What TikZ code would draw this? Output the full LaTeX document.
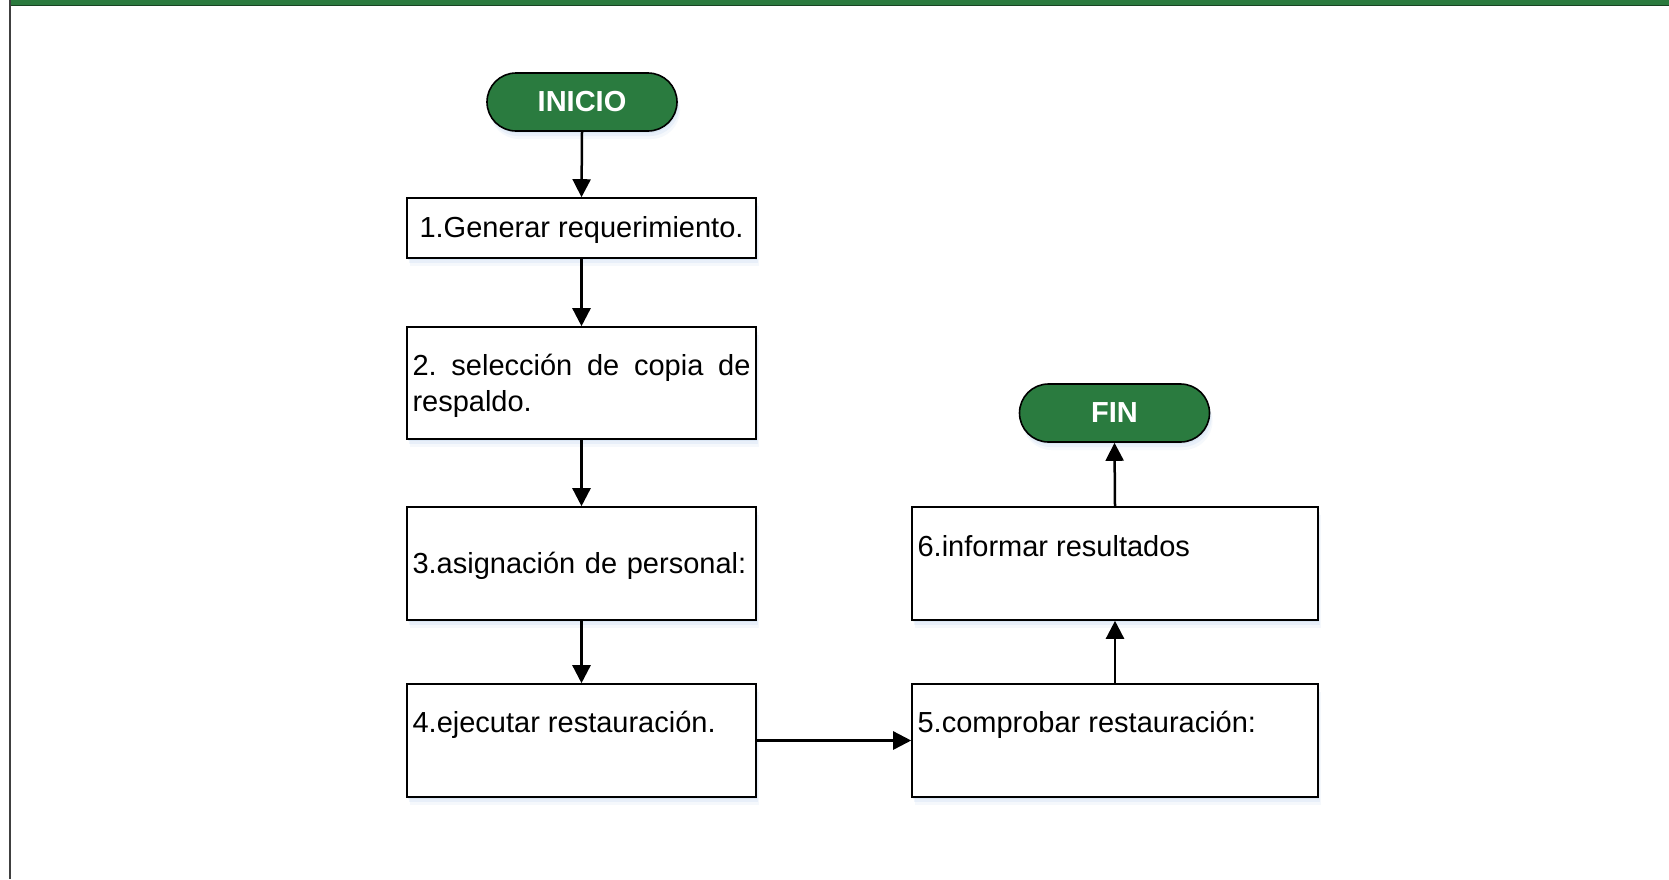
\documentclass[tikz,border=0pt]{standalone}
\usepackage{fontspec}
\setmainfont{Liberation Sans}
\usetikzlibrary{arrows.meta,shapes.misc,shadows}
\definecolor{flowgreen}{HTML}{2A7B3F}
\definecolor{bargreen}{HTML}{2B7A3E}
\definecolor{edgegray}{HTML}{404040}
\definecolor{shadowblue}{HTML}{BDD3EE}
\frenchspacing
\begin{document}
\begin{tikzpicture}[x=0.5pt,y=-0.5pt,
  softshadow/.style={
    general shadow={fill=shadowblue,opacity=0.30,shadow xshift=0.5pt,shadow yshift=-1pt},
    general shadow={fill=shadowblue,opacity=0.22,shadow xshift=1pt,shadow yshift=-2.5pt},
    general shadow={fill=shadowblue,opacity=0.15,shadow xshift=1.5pt,shadow yshift=-4pt}},
  stepbox/.style={draw=black, line width=0.8pt, fill=white, softshadow, inner sep=0pt},
  pill/.style={rounded rectangle, draw=black, line width=0.8pt, fill=flowgreen, text=white,
    font=\bfseries\fontsize{14.5}{17}\selectfont, minimum width=95pt, minimum height=29pt,
    inner sep=0pt, softshadow},
  flow/.style={-{Triangle[length=9pt,width=9pt]}, line width=1.25pt},
  txt/.style={font=\fontsize{14.5}{18}\selectfont, inner sep=0pt}
]
\useasboundingbox (0,0) rectangle (1669,879);
\fill[white] (0,0) rectangle (1669,879);
\fill[bargreen] (10,0) rectangle (1669,5.5);
\draw[bargreen!55!black, line width=0.5pt] (10,5.5) -- (1669,5.5);
\draw[edgegray, line width=1pt] (10,0) -- (10,879);

\node[pill] (inicio) at (582,102) {INICIO};
\node[stepbox, minimum width=174.5pt, minimum height=30pt] (b1) at (581.5,228) {};
\node[txt, align=center] (t1) at ([yshift=-1.2pt]b1.center) {1.Generar requerimiento.};
\node[stepbox, minimum width=174.5pt, minimum height=56pt] (b2) at (581.5,383) {};
\node[txt, text width=169pt, align=justify] (t2) at ([yshift=-1.2pt]b2.center) {2. selección de copia de respaldo.};
\node[stepbox, minimum width=174.5pt, minimum height=56.5pt] (b3) at (581.5,563.5) {};
\node[txt, text width=169pt, align=left] (t3) at ([yshift=-1.2pt]b3.center) {3.asignación de personal:};
\node[stepbox, minimum width=174.5pt, minimum height=56.5pt] (b4) at (581.5,740.5) {};
\node[txt, anchor=base west] (t4) at ([xshift=3pt,yshift=-24.5pt]b4.north west) {4.ejecutar restauración.};
\node[stepbox, minimum width=203pt, minimum height=56.5pt] (b5) at (1115,740.5) {};
\node[txt, anchor=base west] (t5) at ([xshift=3pt,yshift=-24.5pt]b5.north west) {5.comprobar restauración:};
\node[stepbox, minimum width=203pt, minimum height=56.5pt] (b6) at (1115,563.5) {};
\node[txt, anchor=base west] (t6) at ([xshift=3pt,yshift=-25.3pt]b6.north west) {6.informar resultados};
\node[pill] (fin) at (1114.5,413) {FIN};

\draw[flow] (inicio.south) -- (b1.north);
\draw[flow] (b1.south) -- (b2.north);
\draw[flow] (b2.south) -- (b3.north);
\draw[flow] (b3.south) -- (b4.north);
\draw[flow] (b4.east) -- (b5.west);
\draw[flow] (b5.north) -- (b6.south);
\draw[flow] (b6.north) -- (fin.south);
\end{tikzpicture}
\end{document}
